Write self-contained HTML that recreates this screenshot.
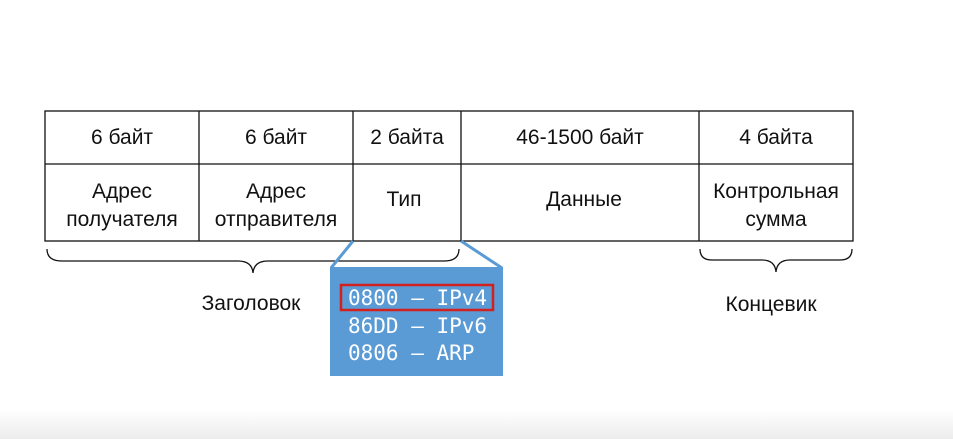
<!DOCTYPE html>
<html><head><meta charset="utf-8"><style>
body{margin:0;width:953px;height:439px;overflow:hidden;background:#fff}
svg{display:block}
text{font-family:"Liberation Sans",sans-serif;font-size:21px;fill:#111}
.m{font-family:"DejaVu Sans Mono","Liberation Mono",monospace;font-size:21px;fill:#fff}
</style></head><body>
<svg width="953" height="439" viewBox="0 0 953 439">
<defs><linearGradient id="g" x1="0" y1="0" x2="0" y2="1"><stop offset="0" stop-color="#fff"/><stop offset="1" stop-color="#ececec"/></linearGradient></defs>
<rect x="0" y="410" width="953" height="29" fill="url(#g)"/>
<g stroke="#111" stroke-width="1.3" fill="none">
<rect x="45" y="111" width="808" height="130"/>
<line x1="45" y1="164" x2="853" y2="164"/>
<line x1="199" y1="111" x2="199" y2="241"/>
<line x1="353" y1="111" x2="353" y2="241"/>
<line x1="461" y1="111" x2="461" y2="241"/>
<line x1="699" y1="111" x2="699" y2="241"/>
<path d="M47 249 Q47 261 62 261 L238 261 Q252 261 253 273 Q254 261 268 261 L444 261 Q459 261 459 249"/>
<path d="M700 249 Q700 260 712 260 L762 260 Q775 260 776 272 Q777 260 790 260 L840 260 Q852 260 852 249"/>
</g>
<line x1="353" y1="241" x2="331" y2="268" stroke="#5b9bd5" stroke-width="3"/>
<line x1="461" y1="241" x2="502" y2="268" stroke="#5b9bd5" stroke-width="3"/>
<rect x="330" y="267" width="173" height="109" fill="#5b9bd5"/>
<rect x="341" y="285" width="152" height="25" fill="none" stroke="#d0211e" stroke-width="2.5"/>
<text class="m" x="348" y="305">0800 – IPv4</text>
<text class="m" x="348" y="333">86DD – IPv6</text>
<text class="m" x="348" y="360">0806 – ARP</text>
<g text-anchor="middle">
<text x="122" y="144">6 байт</text>
<text x="276" y="144">6 байт</text>
<text x="407" y="144">2 байта</text>
<text x="580" y="144">46-1500 байт</text>
<text x="776" y="144">4 байта</text>
<text x="122" y="198">Адрес</text>
<text x="122" y="226">получателя</text>
<text x="276" y="198">Адрес</text>
<text x="276" y="226">отправителя</text>
<text x="404" y="206">Тип</text>
<text x="584" y="206">Данные</text>
<text x="776" y="198">Контрольная</text>
<text x="776" y="226">сумма</text>
<text x="251" y="310">Заголовок</text>
<text x="771" y="311">Концевик</text>
</g>
</svg>
</body></html>
